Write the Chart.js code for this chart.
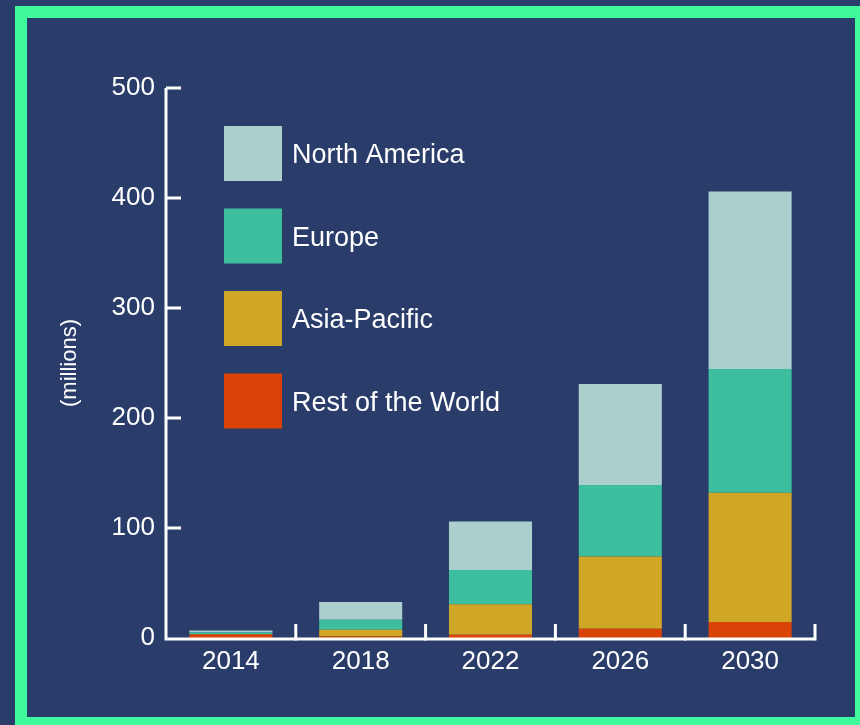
<!DOCTYPE html>
<html>
<head>
<meta charset="utf-8">
<script src="https://cdn.jsdelivr.net/npm/chart.js@4.4.0/dist/chart.umd.min.js"></script>
<style>
  html, body { margin: 0; padding: 0; background: #293c6a; }
  #wrap { width: 860px; height: 725px; }
</style>
</head>
<body>
<div id="wrap"><canvas id="chart" width="860" height="725"></canvas></div>
<script>
// Chart data (millions)
const years = ['2014', '2018', '2022', '2026', '2030'];
const restOfWorld = [3.2, 1.4, 2.9, 8.5, 14.5];
const asiaPacific = [0.4, 6.0, 27.8, 65.7, 117.5];
const europe = [1.5, 9.1, 31.2, 64.8, 112.5];
const northAmerica = [1.8, 16.3, 43.9, 91.9, 161.5];
const yTicks = [0, 100, 200, 300, 400, 500];

const navy = '#293c6a';
const green = '#3ffb9b';
const fontFamily = '"Liberation Sans", Arial, Helvetica, sans-serif';

// background, green frame, inward ticks, y title, legend
const decor = {
  id: 'decor',
  beforeDraw(chart) {
    const ctx = chart.ctx;
    ctx.save();
    ctx.fillStyle = navy;
    ctx.fillRect(0, 0, chart.width, chart.height);
    ctx.fillStyle = green;
    ctx.fillRect(15, 6, 845, 12);
    ctx.fillRect(15, 6, 12, 719);
    ctx.fillRect(15, 717, 845, 8);
    ctx.fillRect(855, 6, 5, 719);
    ctx.restore();
  },
  afterDraw(chart) {
    const ctx = chart.ctx;
    const x = chart.scales.x, y = chart.scales.y;
    const area = chart.chartArea;
    ctx.save();
    ctx.strokeStyle = '#ffffff';
    ctx.lineWidth = 3;
    ctx.lineCap = 'butt';
    // axes
    ctx.beginPath();
    ctx.moveTo(area.left, y.getPixelForValue(500));
    ctx.lineTo(area.left, area.bottom + 1);
    ctx.lineTo(area.right, area.bottom + 1);
    ctx.stroke();
    // y ticks pointing inward
    ctx.beginPath();
    yTicks.forEach(v => {
      if (v === 0) return;
      const py = y.getPixelForValue(v);
      ctx.moveTo(area.left, py);
      ctx.lineTo(area.left + 15, py);
    });
    // x ticks between categories, pointing up
    const step = x.getPixelForValue(1) - x.getPixelForValue(0);
    for (let i = 0; i < years.length; i++) {
      const px = x.getPixelForValue(i) + step / 2;
      ctx.moveTo(px, area.bottom + 2.5);
      ctx.lineTo(px, area.bottom - 14);
    }
    ctx.stroke();

    // y axis title
    ctx.fillStyle = '#ffffff';
    ctx.font = '22px ' + fontFamily;
    ctx.textAlign = 'center';
    ctx.textBaseline = 'middle';
    ctx.translate(70, (area.top + area.bottom) / 2);
    ctx.rotate(-Math.PI / 2);
    ctx.fillText('(millions)', 0, 0);
    ctx.restore();

    // legend, top to bottom is reverse of stacking order
    ctx.save();
    const sets = chart.data.datasets.slice().reverse();
    ctx.font = '27px ' + fontFamily;
    ctx.textAlign = 'left';
    ctx.textBaseline = 'middle';
    sets.forEach((ds, i) => {
      const top = 126 + i * 82.5;
      ctx.fillStyle = ds.backgroundColor;
      ctx.fillRect(224, top, 58, 55);
      ctx.fillStyle = '#ffffff';
      ctx.fillText(ds.label, 292, top + 30);
    });
    ctx.restore();
  }
};

new Chart(document.getElementById('chart'), {
  type: 'bar',
  data: {
    labels: years,
    datasets: [
      { label: 'Rest of the World', data: restOfWorld, backgroundColor: '#d94307' },
      { label: 'Asia-Pacific', data: asiaPacific, backgroundColor: '#d0a627' },
      { label: 'Europe', data: europe, backgroundColor: '#3dbf9f' },
      { label: 'North America', data: northAmerica, backgroundColor: '#abcfcc' }
    ]
  },
  options: {
    responsive: false,
    animation: false,
    layout: { padding: { top: 88, right: 45, left: 0, bottom: 0 } },
    datasets: { bar: { categoryPercentage: 1, barPercentage: 0.64, borderWidth: 0 } },
    plugins: { legend: { display: false }, tooltip: { enabled: false } },
    scales: {
      x: {
        stacked: true,
        grid: { display: false, drawTicks: false },
        border: { display: false },
        ticks: { color: '#ffffff', font: { family: fontFamily, size: 26 }, padding: 8 },
        afterFit(scale) { scale.height = 87; }
      },
      y: {
        stacked: true,
        min: 0,
        max: 500,
        grid: { display: false, drawTicks: false },
        border: { display: false },
        ticks: {
          color: '#ffffff',
          font: { family: fontFamily, size: 26 },
          padding: 11,
          stepSize: 100
        },
        afterBuildTicks(scale) { scale.ticks = yTicks.map(v => ({ value: v })); },
        afterFit(scale) { scale.width = 166; }
      }
    }
  },
  plugins: [decor]
});
</script>
</body>
</html>
